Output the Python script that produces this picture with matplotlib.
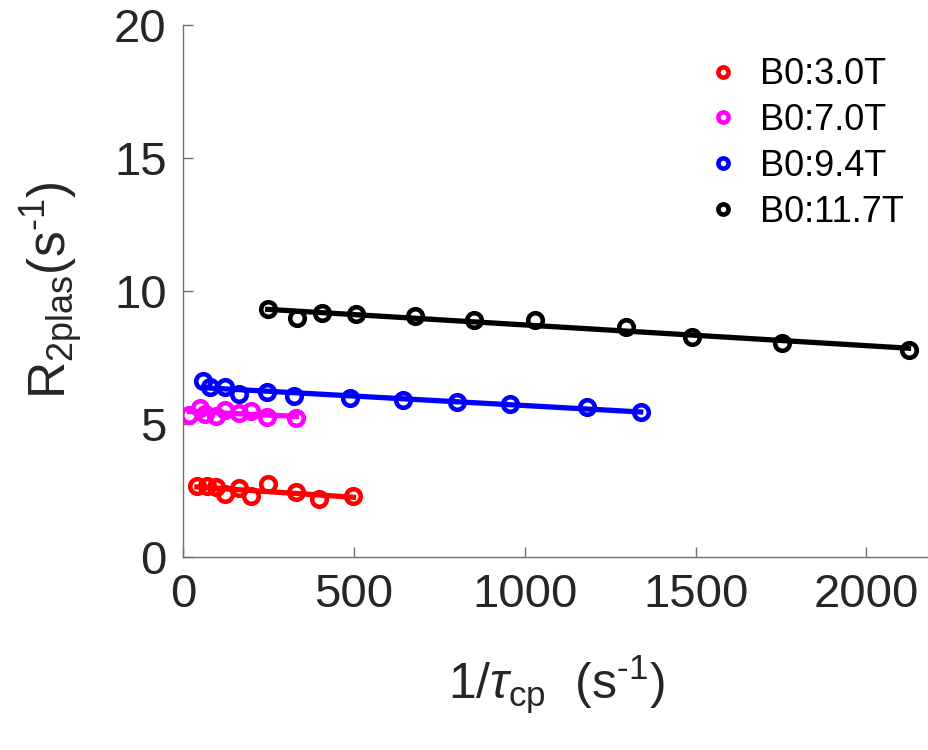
import numpy as np
import matplotlib
matplotlib.use('Agg')
import matplotlib.pyplot as plt

plt.rcParams['font.family'] = 'Liberation Sans'
plt.rcParams['mathtext.fontset'] = 'custom'
plt.rcParams['mathtext.rm'] = 'Liberation Sans'
plt.rcParams['mathtext.it'] = 'Liberation Sans:italic'

# data (1/tau_cp in s^-1, R2plas in s^-1)
x_30 = [40, 70, 95, 122, 162, 197, 248, 330, 396, 498]
y_30 = [2.66, 2.65, 2.62, 2.35, 2.57, 2.28, 2.73, 2.43, 2.18, 2.27]
x_70 = [18, 48, 64, 96, 122, 162, 197, 246, 331]
y_70 = [5.34, 5.60, 5.36, 5.30, 5.50, 5.39, 5.49, 5.26, 5.23]
x_94 = [59, 79, 121, 162, 244, 323, 488, 644, 800, 955, 1181, 1339]
y_94 = [6.61, 6.38, 6.37, 6.10, 6.20, 6.05, 5.98, 5.89, 5.80, 5.74, 5.64, 5.45]
x_117 = [247, 332, 405, 505, 678, 851, 1030, 1296, 1490, 1752, 2123]
y_117 = [9.30, 8.96, 9.17, 9.11, 9.06, 8.89, 8.91, 8.62, 8.27, 8.02, 7.77]

labels = ['B0:3.0T', 'B0:7.0T', 'B0:9.4T', 'B0:11.7T']
colors = ['#ff0000', '#ff00ff', '#0000ff', '#000000']
series = [(x_30, y_30), (x_70, y_70), (x_94, y_94), (x_117, y_117)]

fig = plt.figure(figsize=(9.29, 7.5), dpi=100)
ax = fig.add_axes([0.1973, 0.2577, 0.8027, 0.7093])

for (xs, ys), c, lab in zip(series, colors, labels):
    xs = np.array(xs, dtype=float)
    ys = np.array(ys, dtype=float)
    p = np.polyfit(xs, ys, 1)
    xf = np.array([xs.min(), xs.max()])
    ax.plot(xf, np.polyval(p, xf), '-', color=c, lw=3.8, zorder=2)
    ax.plot(xs, ys, 'o', color=c, mfc='none', mec=c, ms=10.5, mew=3.3,
            zorder=3, label=lab)

ax.set_xlim(0, 2183)
ax.set_ylim(0, 20)
ax.set_xticks([0, 500, 1000, 1500, 2000])
ax.set_yticks([0, 5, 10, 15, 20])

for s in ['top', 'right']:
    ax.spines[s].set_visible(False)
for s in ['left', 'bottom']:
    ax.spines[s].set_color('#707070')
    ax.spines[s].set_linewidth(1.0)
ax.tick_params(direction='in', length=7, width=1.0, color='#707070',
               labelsize=34, labelcolor='#262626', pad=12)

ax.set_xlabel(r'$1/\tau_{\mathrm{cp}}$  (s$^{\text{-}1}$)', fontsize=36,
              color='#262626', labelpad=26)
ax.set_ylabel(r'R$_{\mathrm{2plas}}$(s$^{\text{-}1}$)', fontsize=37,
              color='#262626', labelpad=20)

leg = ax.legend(loc='upper left', bbox_to_anchor=(0.665, 1.0), frameon=False,
                fontsize=26, handlelength=0.6, handletextpad=0.75,
                labelspacing=0.3, markerscale=0.7)

fig.savefig('out.png', dpi=100)
